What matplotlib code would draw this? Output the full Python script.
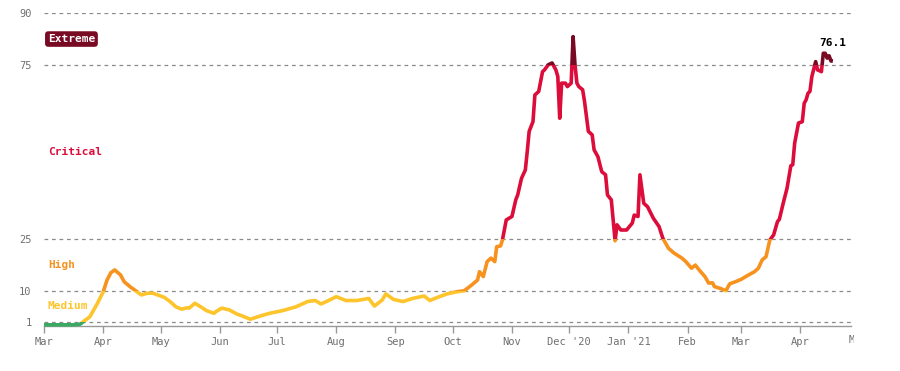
import datetime as dt
import matplotlib.pyplot as plt
import matplotlib.dates as mdates
from matplotlib.patches import Rectangle
from matplotlib.transforms import Bbox, TransformedBbox, offset_copy

plt.rcParams['font.family'] = ['DejaVu Sans Mono']

# daily risk index (days since 2020-03-01)
start = dt.date(2020, 3, 1)
day = [0, 8, 16, 19, 21, 24, 28, 31, 33, 35, 37, 40, 42, 45, 48, 51, 54, 57, 61, 63,
       66, 69, 72, 75, 76, 79, 82, 85, 89, 90, 93, 97, 101, 104, 108, 113, 118, 125, 132, 138,
       142, 145, 149, 153, 158, 164, 170, 173, 177, 179, 183, 188, 193, 199, 202, 206, 211, 216, 220, 224,
       227, 228, 230, 232, 234, 236, 237, 239, 240, 242, 245, 247, 248, 250, 252, 253, 254, 256, 257, 259,
       261, 262, 264, 266, 268, 269, 270, 271, 273, 274, 276, 277, 278, 279, 280, 282, 283, 285, 287, 288,
       290, 292, 294, 295, 297, 299, 300, 302, 305, 308, 309, 311, 312, 314, 316, 319, 322, 324, 327, 330,
       334, 336, 339, 341, 343, 346, 348, 350, 351, 354, 357, 359, 362, 365, 369, 372, 374, 376, 378, 380,
       382, 384, 385, 387, 389, 391, 392, 393, 395, 397, 398, 399, 400, 401, 402, 404, 405, 406, 407, 408,
       409, 410, 411, 412, 413]
value = [0.2, 0.2, 0.2, 0.4, 1.3, 2.5, 6.4, 9.7, 13.1, 15.2, 16.0, 14.6, 12.6, 11.2, 10.0, 8.8, 9.3, 9.3, 8.5, 8.1,
         6.9, 5.4, 4.7, 5.1, 5.0, 6.4, 5.4, 4.3, 3.5, 4.0, 5.0, 4.5, 3.3, 2.7, 1.8, 2.7, 3.5, 4.3, 5.4, 6.9,
         7.2, 6.2, 7.2, 8.3, 7.2, 7.2, 7.8, 5.6, 7.3, 9.1, 7.5, 6.9, 7.8, 8.5, 7.2, 8.1, 9.1, 9.7, 10.0, 11.7,
         13.1, 15.5, 14.1, 18.4, 19.4, 18.4, 22.7, 22.9, 24.6, 30.4, 31.4, 36.2, 37.6, 42.4, 44.8, 50.1, 55.9, 58.7, 66.4, 67.4,
         73.1, 73.6, 75.1, 75.6, 73.6, 71.7, 59.7, 69.8, 69.8, 68.8, 69.8, 83.2, 75.1, 69.8, 68.8, 67.9, 64.5, 55.9, 54.9, 50.6,
         48.6, 44.3, 43.4, 37.6, 36.2, 24.4, 29.0, 27.5, 27.5, 29.5, 31.8, 31.4, 43.4, 35.2, 34.2, 30.9, 28.5, 25.1, 22.2, 20.8,
         19.4, 18.4, 16.5, 17.4, 16.0, 14.1, 12.2, 12.3, 11.2, 10.7, 10.0, 12.0, 12.6, 13.3, 14.6, 15.5, 16.5, 18.9, 19.8, 24.6,
         26.1, 29.9, 30.6, 35.2, 39.5, 46.0, 46.3, 52.5, 58.3, 58.7, 64.0, 65.0, 66.9, 67.4, 71.7, 76.0, 73.6, 73.4, 73.1, 78.4,
         78.4, 77.0, 77.7, 76.2, 76.1]
dates = [start + dt.timedelta(days=d) for d in day]

# risk bands
band_edges = [-10, 1, 10, 25, 75, 200]
band_colors = ['#3aaa62', '#fdc42c', '#f8921e', '#dc0d3b', '#790a24']
band_names = ['Medium', 'High', 'Critical', 'Extreme']
band_mid = [5.5, 17.5, 50, 82.5]
yticks = [1, 10, 25, 75, 90]

month_ticks = [dt.date(2020, m, 1) for m in range(3, 13)] + [dt.date(2021, m, 1) for m in range(1, 5)]
month_labels = ['Mar', 'Apr', 'May', 'Jun', 'Jul', 'Aug', 'Sep', 'Oct', 'Nov', "Dec '20",
                "Jan '21", 'Feb', 'Mar', 'Apr']

fig = plt.figure(figsize=(9, 3.71), dpi=100)
ax = fig.add_axes([44 / 900, 45.5 / 371, 807 / 900, 312.5 / 371])

x0 = mdates.date2num(start)
x1 = x0 + 422.5
ax.set_xlim(x0, x1)
ax.set_ylim(0, 90)

for i, c in enumerate(band_colors):
    lo, hi = band_edges[i], band_edges[i + 1]
    line, = ax.plot(dates, value, color=c, lw=2.6, solid_joinstyle='round',
                    solid_capstyle='butt', zorder=3)
    line.set_clip_path(Rectangle((x0 - 5, lo), 440, hi - lo, transform=ax.transData))

# grid
for y in yticks:
    ax.axhline(y, color='#8a8a8a', lw=0.9, ls=(0, (3, 3)), zorder=1)

ax.set_yticks(yticks)
ax.set_yticklabels([str(t) for t in yticks])
ax.tick_params(axis='y', length=0, pad=9, labelsize=7.5, labelcolor='#6f6f6f')
ax.set_xticks(month_ticks)
ax.set_xticklabels(month_labels)
ax.tick_params(axis='x', length=5, width=1, color='#999999', pad=3.5,
               labelsize=7.5, labelcolor='#6f6f6f')

for s in ['top', 'right', 'left']:
    ax.spines[s].set_visible(False)
ax.spines['bottom'].set_color('#999999')
ax.spines['bottom'].set_linewidth(1)
ax.spines['bottom'].set_zorder(2)

# last month label, cut off at the chart edge
may = fig.text(mdates.date2num(dt.date(2021, 5, 1)), 0, 'May',
               transform=offset_copy(ax.get_xaxis_transform(), fig=fig, x=0, y=-7.1, units='points'),
               ha='center', va='top', fontsize=7.5, color='#6f6f6f')
may.set_clip_on(True)
may.set_clip_box(TransformedBbox(Bbox([[0, 0], [854 / 900, 1]]), fig.transFigure))

# band labels
lx = start + dt.timedelta(days=2.2)
for name, y, c in zip(band_names, band_mid, band_colors[1:]):
    if name == 'Extreme':
        ax.text(lx, y, name, color='white', fontsize=8, fontweight='bold', va='center', ha='left',
                bbox=dict(boxstyle='round,pad=0.25,rounding_size=0.3', fc=c, ec='none'))
    else:
        ax.text(lx, y, name, color=c, fontsize=8, fontweight='bold', va='center', ha='left')

ax.text(dates[-1], 81.3, f'{value[-1]:.1f}', ha='center', va='center',
        fontsize=8, fontweight='bold', color='black')

fig.savefig('out.png', dpi=100)
